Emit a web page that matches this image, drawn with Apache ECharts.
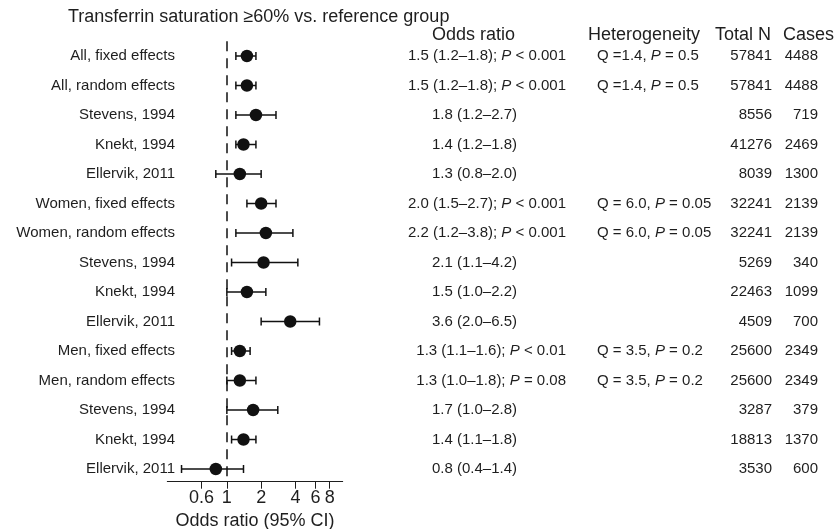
<!DOCTYPE html>
<html><head><meta charset="utf-8">
<script src="https://cdn.jsdelivr.net/npm/echarts@6/dist/echarts.min.js"></script>
<style>html,body{margin:0;padding:0;background:#fff}#c{width:834px;height:529px}</style>
</head><body><div id="c"></div>
<script>
const rowLabels = ['All, fixed effects','All, random effects','Stevens, 1994','Knekt, 1994','Ellervik, 2011',
  'Women, fixed effects','Women, random effects','Stevens, 1994','Knekt, 1994','Ellervik, 2011',
  'Men, fixed effects','Men, random effects','Stevens, 1994','Knekt, 1994','Ellervik, 2011'];
const oddsRatio = [1.5,1.5,1.8,1.4,1.3, 2.0,2.2,2.1,1.5,3.6, 1.3,1.3,1.7,1.4,0.8];
const ciLower   = [1.2,1.2,1.2,1.2,0.8, 1.5,1.2,1.1,1.0,2.0, 1.1,1.0,1.0,1.1,0.4];
const ciUpper   = [1.8,1.8,2.7,1.8,2.0, 2.7,3.8,4.2,2.2,6.5, 1.6,1.8,2.8,1.8,1.4];
const pValueText = ['< 0.001','< 0.001',null,null,null,'< 0.001','< 0.001',null,null,null,'< 0.01','= 0.08',null,null,null];
const hetQ = ['=1.4','=1.4',null,null,null,'= 6.0','= 6.0',null,null,null,'= 3.5','= 3.5',null,null,null];
const hetP = ['= 0.5','= 0.5',null,null,null,'= 0.05','= 0.05',null,null,null,'= 0.2','= 0.2',null,null,null];
const totalN = [57841,57841,8556,41276,8039, 32241,32241,5269,22463,4509, 25600,25600,3287,18813,3530];
const cases  = [4488,4488,719,2469,1300, 2139,2139,340,1099,700, 2349,2349,379,1370,600];
const xTicks = [0.6,1,2,4,6,8];
const headers = ['Odds ratio','Heterogeneity','Total N','Cases'];
const titleText = 'Transferrin saturation \u226560% vs. reference group';
const axisTitle = 'Odds ratio (95% CI)';

const FF = '"Liberation Sans", Arial, Helvetica, sans-serif';
const TC = '#1e1e1e';
const f1 = v => v.toFixed(1);
const italic = {i: {fontStyle: 'italic', fontSize: 15, fontFamily: FF, fill: TC}};

const chart = echarts.init(document.getElementById('c'));
const idx = rowLabels.map((_, i) => i);

chart.setOption({
  animation: false,
  backgroundColor: '#fff',
  title: {text: titleText, left: 68, top: 8, padding: 0,
    textStyle: {fontSize: 18, fontWeight: 'normal', color: TC, fontFamily: FF}},
  grid: {left: 167.3, right: 491.3, top: 41.25, bottom: 47.3, containLabel: false, outerBoundsMode: 'none'},
  xAxis: {
    type: 'log', logBase: 10, min: 0.3, max: 10.4,
    axisLine: {show: true, onZero: false, lineStyle: {color: TC, width: 1}},
    axisTick: {show: true, customValues: xTicks, length: 7, lineStyle: {color: TC, width: 1}},
    axisLabel: {customValues: xTicks, fontSize: 18, color: TC, fontFamily: FF, margin: 7,
      formatter: v => String(+Number(v).toPrecision(3))},
    splitLine: {show: false}, minorTick: {show: false},
    name: axisTitle, nameLocation: 'middle', nameGap: 27,
    nameTextStyle: {fontSize: 18, color: TC, fontFamily: FF}
  },
  yAxis: {type: 'value', inverse: true, min: -0.5, max: 14.43, show: false},
  graphic: [
    {type: 'text', style: {text: headers[0], x: 432, y: 35, verticalAlign: 'middle', align: 'left', fontSize: 18, fontFamily: FF, fill: TC}},
    {type: 'text', style: {text: headers[1], x: 588, y: 35, verticalAlign: 'middle', align: 'left', fontSize: 18, fontFamily: FF, fill: TC}},
    {type: 'text', style: {text: headers[2], x: 715, y: 35, verticalAlign: 'middle', align: 'left', fontSize: 18, fontFamily: FF, fill: TC}},
    {type: 'text', style: {text: headers[3], x: 783, y: 35, verticalAlign: 'middle', align: 'left', fontSize: 18, fontFamily: FF, fill: TC}}
  ],
  series: [
    {
      type: 'custom', name: 'ci', clip: false,
      data: idx.map(i => [ciLower[i], ciUpper[i], i]),
      encode: {x: [0, 1], y: 2},
      renderItem: (params, api) => {
        const p1 = api.coord([api.value(0), api.value(2)]);
        const p2 = api.coord([api.value(1), api.value(2)]);
        const h = 4;
        const ls = {stroke: '#111', lineWidth: 1.5};
        return {type: 'group', children: [
          {type: 'line', shape: {x1: p1[0], y1: p1[1], x2: p2[0], y2: p2[1]}, style: ls},
          {type: 'line', shape: {x1: p1[0], y1: p1[1] - h, x2: p1[0], y2: p1[1] + h}, style: ls},
          {type: 'line', shape: {x1: p2[0], y1: p2[1] - h, x2: p2[0], y2: p2[1] + h}, style: ls}
        ]};
      },
      z: 2
    },
    {
      type: 'scatter', name: 'or',
      data: idx.map(i => [oddsRatio[i], i]),
      symbol: 'circle', symbolSize: 12.5,
      itemStyle: {color: '#111', opacity: 1},
      z: 3,
      markLine: {
        silent: true, symbol: ['none', 'none'], label: {show: false},
        lineStyle: {type: [10, 7], color: '#111', width: 1.5},
        data: [{xAxis: 1}]
      }
    },
    {
      type: 'custom', name: 'text', clip: false, silent: true,
      data: idx.map(i => [1, i]),
      encode: {x: 0, y: 1},
      renderItem: (params, api) => {
        const i = params.dataIndex;
        const y = api.coord([1, api.value(1)])[1];
        const base = {fontSize: 15, fontFamily: FF, fill: TC, verticalAlign: 'middle'};
        const orStr = f1(oddsRatio[i]) + ' (' + f1(ciLower[i]) + '\u2013' + f1(ciUpper[i]) + ')';
        const children = [
          {type: 'text', style: Object.assign({}, base, {text: rowLabels[i], x: 175, y: y, align: 'right'})},
          {type: 'text', style: Object.assign({}, base, {text: String(totalN[i]), x: 772, y: y, align: 'right'})},
          {type: 'text', style: Object.assign({}, base, {text: String(cases[i]), x: 818, y: y, align: 'right'})}
        ];
        if (pValueText[i]) {
          children.push({type: 'text', style: Object.assign({}, base, {text: orStr + '; {i|P} ' + pValueText[i], rich: italic, x: 566, y: y, align: 'right'})});
        } else {
          children.push({type: 'text', style: Object.assign({}, base, {text: orStr, x: 432, y: y, align: 'left'})});
        }
        if (hetQ[i]) {
          children.push({type: 'text', style: Object.assign({}, base, {text: 'Q ' + hetQ[i] + ', {i|P} ' + hetP[i], rich: italic, x: 597, y: y, align: 'left'})});
        }
        return {type: 'group', children: children};
      },
      z: 4
    }
  ]
});
</script>
</body></html>
